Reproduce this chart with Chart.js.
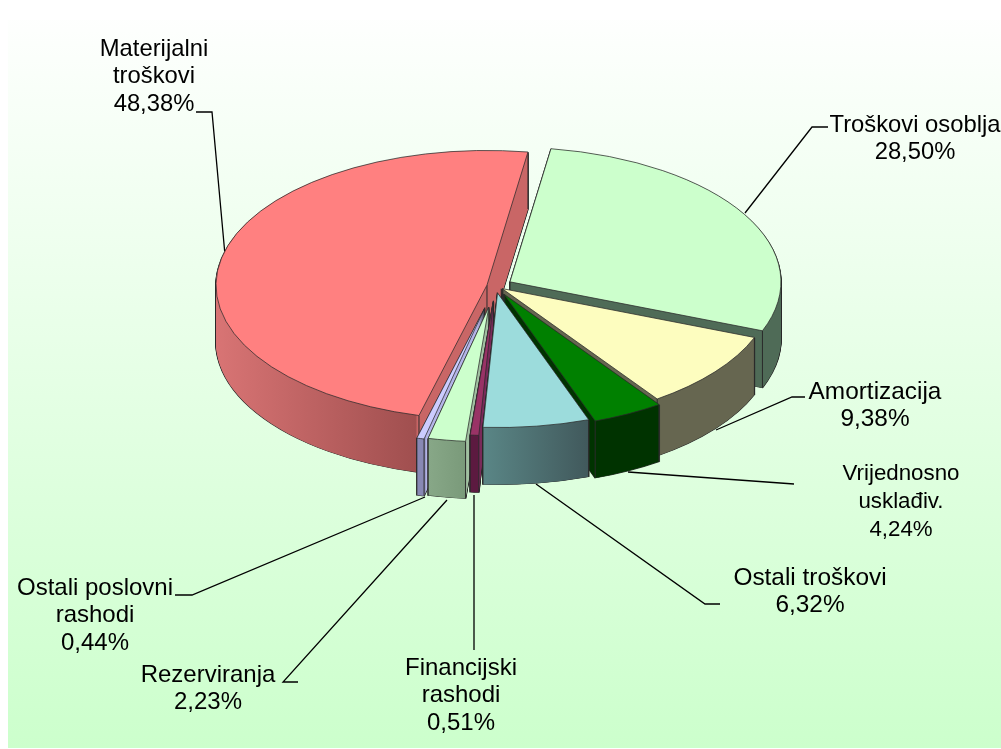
<!DOCTYPE html>
<html><head><meta charset="utf-8">
<style>html,body{margin:0;padding:0;background:#fff}canvas{display:block}</style>
<script src="https://cdn.jsdelivr.net/npm/chart.js@4/dist/chart.umd.min.js"></script>
</head><body><canvas id="c" width="1001" height="749"></canvas>
<script>
const categories = ["Troškovi osoblja","Amortizacija","Vrijednosno usklađiv.","Ostali troškovi","Financijski rashodi","Rezerviranja","Ostali poslovni rashodi","Materijalni troškovi"];
const values = [28.50,9.38,4.24,6.32,0.51,2.23,0.44,48.38];
const labelLines = [["Troškovi osoblja"],["Amortizacija"],["Vrijednosno","usklađiv."],["Ostali troškovi"],["Financijski","rashodi"],["Rezerviranja"],["Ostali poslovni","rashodi"],["Materijalni","troškovi"]];
const topColors = ["#ccffcc","#fdfdbf","#008000","#9cdcdc","#993366","#ccffcc","#ccccff","#ff8080"];

// styling / layout, not data
const explode = [16.7,8.3,18.5,14,30,43,45,8.7];
const drawOrder = [7,0,1,2,6,5,4,3];
const wallStops = [
  [[200,"#4f6b57"],[800,"#4f6b57"]],
  [[200,"#666650"],[800,"#666650"]],
  [[200,"#003300"],[800,"#003300"]],
  [[483,"#5a8686"],[588,"#41595c"]],
  [[470,"#5c1a40"],[478,"#5c1a40"],[479,"#7a2a5a"],[500,"#7a2a5a"]],
  [[427,"#88a888"],[465,"#7a9a7a"],[466,"#a0c0a0"],[500,"#a0c0a0"]],
  [[417,"#8888b4"],[425,"#8888b4"],[426,"#b4b4e8"],[500,"#b4b4e8"]],
  [[217,"#d87474"],[416,"#a04f4f"],[417,"#c96666"],[535,"#c96666"]]
];
const labelPos = [[915,125,23.8],[875,392,24.4],[901,474,22.3],[810,578,24.4],[461,668,24],[208,675,24],[95,588,24],[154,49,23.8]];
const leaders = [
  [[828,127],[812,127],[745,213]],
  [[805,397],[792,397],[716,430]],
  [[794,484],[628,472]],
  [[720,604],[705,604],[536,484]],
  [[474,650],[474,495]],
  [[298,682],[283,682],[447,500]],
  [[175,595],[192,595],[425,497]],
  [[196,112],[212,112],[225,255]]
];
const squash = 0.497, depth = 57, lineH = 27.7;

const pie3d = {
  id:'pie3d',
  beforeDraw(chart){
    const ctx = chart.ctx;
    const g = ctx.createLinearGradient(0,0,0,749);
    g.addColorStop(0,'#ffffff'); g.addColorStop(1,'#ccffcc');
    ctx.save(); ctx.fillStyle='#fff'; ctx.fillRect(0,0,1001,749);
    ctx.fillStyle=g; ctx.fillRect(8,20,993,728); ctx.restore();
  },
  beforeDatasetsDraw(chart){
    const ctx = chart.ctx, arcs = chart.getDatasetMeta(0).data;
    ctx.save(); ctx.strokeStyle='#000'; ctx.lineWidth=1.3;
    leaders.forEach(l=>{ctx.beginPath();l.forEach((p,i)=>i?ctx.lineTo(p[0],p[1]):ctx.moveTo(p[0],p[1]));ctx.stroke();});
    ctx.restore();
    const place=(el,d,dy)=>{
      const m=(el.startAngle+el.endAngle)/2;
      ctx.translate(0,dy); ctx.translate(el.x,el.y); ctx.scale(1,squash); ctx.translate(-el.x,-el.y);
      ctx.translate(Math.cos(m)*d,Math.sin(m)*d);
    };
    drawOrder.forEach(i=>{
      const el=arcs[i], orig=el.options, d=explode[i], m=(el.startAngle+el.endAngle)/2;
      const dx=Math.cos(m)*d, dyy=Math.sin(m)*d;
      const x0=wallStops[i][0][0], x1=wallStops[i][wallStops[i].length-1][0];
      const grad=ctx.createLinearGradient(x0-dx,0,x1-dx,0);
      wallStops[i].forEach(s=>grad.addColorStop((s[0]-x0)/(x1-x0),s[1]));
      // outline pass, then fill pass so only the silhouette of the outline stays visible
      el.options=Object.assign({},orig,{backgroundColor:'#2a2a2a',borderColor:'#2a2a2a',borderWidth:1.6});
      for(let z=depth;z>=1;z--){ ctx.save(); place(el,d,z); el.draw(ctx); ctx.restore(); }
      el.options=Object.assign({},orig,{backgroundColor:grad,borderColor:grad,borderWidth:0});
      for(let z=depth;z>=1;z--){ ctx.save(); place(el,d,z); el.draw(ctx); ctx.restore(); }
      el.options=orig;
      const R=el.outerRadius;
      const pts=[[0,0],[Math.cos(el.startAngle)*R,Math.sin(el.startAngle)*R],[Math.cos(el.endAngle)*R,Math.sin(el.endAngle)*R]];
      ctx.save(); ctx.strokeStyle='#2a2a2a'; ctx.lineWidth=1;
      pts.forEach(p=>{
        const x=el.x+dx+p[0], y=el.y+(dyy+p[1])*squash;
        ctx.beginPath(); ctx.moveTo(x,y); ctx.lineTo(x,y+depth); ctx.stroke();
      });
      ctx.restore();
      ctx.save(); place(el,d,0); el.draw(ctx); ctx.restore();
    });
    return false;
  },
  afterDraw(chart){
    const ctx=chart.ctx;
    ctx.save(); ctx.fillStyle='#000'; ctx.textAlign='center'; ctx.textBaseline='middle';
    categories.forEach((c,i)=>{
      const [x,y,size]=labelPos[i];
      ctx.font=size+'px "Liberation Sans", Arial, sans-serif';
      const lines=labelLines[i].concat(values[i].toFixed(2).replace('.',',')+'%');
      lines.forEach((t,n)=>ctx.fillText(t,x,y+n*lineH));
    });
    ctx.restore();
  }
};

new Chart(document.getElementById('c'),{
  type:'pie',
  data:{labels:categories,datasets:[{data:values,backgroundColor:topColors,borderColor:'#2a2a2a',borderWidth:1,borderJoinStyle:'miter'}]},
  options:{
    responsive:false,animation:false,events:[],
    rotation:8.7,radius:271,
    layout:{padding:{left:2,right:12,top:0,bottom:177}},
    plugins:{legend:{display:false},tooltip:{enabled:false},title:{display:false}}
  },
  plugins:[pie3d]
});
</script></body></html>
